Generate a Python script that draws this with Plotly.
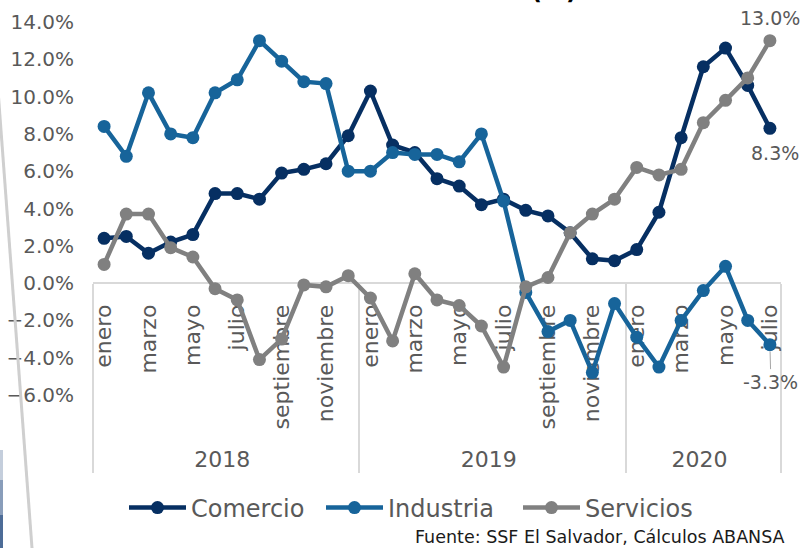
import plotly.graph_objects as go

# ---------------- data ----------------
month_names = ["enero", "febrero", "marzo", "abril", "mayo", "junio", "julio",
               "agosto", "septiembre", "octubre", "noviembre", "diciembre"]
years = ["2018"] * 12 + ["2019"] * 12 + ["2020"] * 7
months = (month_names * 3)[:31]

comercio = [2.4, 2.5, 1.6, 2.2, 2.6, 4.8, 4.8, 4.5, 5.9, 6.1, 6.4, 7.9,
            10.3, 7.4, 7.0, 5.6, 5.2, 4.2, 4.5, 3.9, 3.6, 2.7, 1.3, 1.2,
            1.8, 3.8, 7.8, 11.6, 12.6, 10.6, 8.3]
industria = [8.4, 6.8, 10.2, 8.0, 7.8, 10.2, 10.9, 13.0, 11.9, 10.8, 10.7, 6.0,
             6.0, 7.0, 6.9, 6.9, 6.5, 8.0, 4.4, -0.5, -2.6, -2.0, -4.8, -1.1,
             -2.9, -4.5, -2.0, -0.4, 0.9, -2.0, -3.3]
servicios = [1.0, 3.7, 3.7, 1.9, 1.4, -0.3, -0.9, -4.1, -3.0, -0.1, -0.2, 0.4,
             -0.8, -3.1, 0.5, -0.9, -1.2, -2.3, -4.5, -0.2, 0.3, 2.7, 3.7, 4.5,
             6.2, 5.8, 6.1, 8.6, 9.8, 11.0, 13.0]

series_names = ["Comercio", "Industria", "Servicios"]
source_text = "Fuente: SSF El Salvador, Cálculos ABANSA"
title_fragment = "(%)"

# every other month is labelled; the others get blank labels (non-breaking
# spaces) that are the same in every year so the category order stays
# chronological
tick_labels = [m if month_names.index(m) % 2 == 0
               else "\u00a0" * (month_names.index(m) + 8)
               for m in months]

# ---------------- style ----------------
FONT = "DejaVu Sans"
TXT = "#595959"
colors = {"Comercio": "#062F62", "Industria": "#17649A", "Servicios": "#808080"}
W, H = 802, 548
ML, MR, MT, MB = 93, 21, 22, 153
YMIN, YMAX = -6, 14
plot_w = W - ML - MR
plot_h = H - MT - MB

def px_to_paper_x(px):
    return (px - ML) / plot_w

def px_to_paper_y(py):
    return (H - MB - py) / plot_h

fig = go.Figure()
for name, vals in zip(series_names, [comercio, industria, servicios]):
    fig.add_trace(go.Scatter(
        x=[years, tick_labels], y=vals, name=name, mode="lines+markers",
        line=dict(color=colors[name], width=4.5),
        marker=dict(color=colors[name], size=13),
        cliponaxis=False,
    ))

last = len(months) - 1
lab_font = dict(family=FONT, size=19, color=TXT)
fig.add_annotation(x=last, y=servicios[-1], xref="x", yref="y",
                   text=f"{servicios[-1]:.1f}%", showarrow=False, yshift=23,
                   font=lab_font)
fig.add_annotation(x=last, y=comercio[-1], xref="x", yref="y",
                   text=f"{comercio[-1]:.1f}%", showarrow=False, yshift=-25, xshift=5,
                   font=lab_font)
fig.add_annotation(x=last, y=industria[-1], xref="x", yref="y",
                   text=f"{industria[-1]:.1f}%", showarrow=True, ax=1, ay=37,
                   arrowhead=0, arrowwidth=1, arrowcolor="#A6A6A6", standoff=7,
                   font=lab_font)

fig.add_annotation(x=px_to_paper_x(787), y=px_to_paper_y(537), xref="paper", yref="paper",
                   xanchor="right", yanchor="middle",
                   text=source_text, showarrow=False,
                   font=dict(family=FONT, size=17.5, color="#1A1A1A"))
fig.add_annotation(x=px_to_paper_x(554), y=px_to_paper_y(7), xref="paper", yref="paper",
                   xanchor="center", yanchor="bottom",
                   text=f"<b>{title_fragment}</b>", showarrow=False,
                   font=dict(family=FONT, size=24, color="#000000"))

# slide decorations on the left edge
fig.add_shape(type="line", xref="paper", yref="paper",
              x0=px_to_paper_x(-2), y0=px_to_paper_y(90),
              x1=px_to_paper_x(32), y1=px_to_paper_y(548),
              line=dict(color="#CFCFCF", width=3))
for y0, y1, op in [(450, 480, 0.3), (480, 515, 0.6), (515, 548, 0.9)]:
    fig.add_shape(type="rect", xref="paper", yref="paper",
                  x0=px_to_paper_x(0), x1=px_to_paper_x(3),
                  y0=px_to_paper_y(y1), y1=px_to_paper_y(y0),
                  fillcolor="#3A5C8C", opacity=op, line=dict(width=0))

fig.update_layout(
    width=W, height=H,
    margin=dict(l=ML, r=MR, t=MT, b=MB, autoexpand=False),
    paper_bgcolor="white", plot_bgcolor="white",
    font=dict(family=FONT, color=TXT),
    showlegend=True,
    legend=dict(orientation="h", x=px_to_paper_x(124), xanchor="left",
                y=px_to_paper_y(508), yanchor="middle",
                font=dict(family=FONT, size=24, color=TXT),
                itemwidth=57, entrywidth=125, entrywidthmode="pixels",
                tracegroupgap=0, bgcolor="rgba(0,0,0,0)"),
    xaxis=dict(
        type="multicategory", anchor="free",
        position=(0 - YMIN) / (YMAX - YMIN),
        range=[-0.5, len(months) - 0.5],
        showline=True, linecolor="#D9D9D9", linewidth=1.5,
        showdividers=True, dividercolor="#D9D9D9", dividerwidth=1.5,
        tickangle=-90, tickmode="linear", dtick=1, tick0=0,
        tickfont=dict(family=FONT, size=22, color=TXT),
        ticks="", showgrid=False, zeroline=False,
        layer="below traces", automargin=False,
        ticklabelstandoff=12,
    ),
    yaxis=dict(
        range=[YMIN, YMAX], dtick=2, tick0=0,
        tickformat=".1f", ticksuffix="%",
        showgrid=False, zeroline=False, showline=False,
        tickfont=dict(family=FONT, size=20, color=TXT),
        ticklabelstandoff=18, automargin=False,
    ),
)

fig.write_html("out.html", config={"displayModeBar": False},
               post_script="document.body.style.margin='0';")
